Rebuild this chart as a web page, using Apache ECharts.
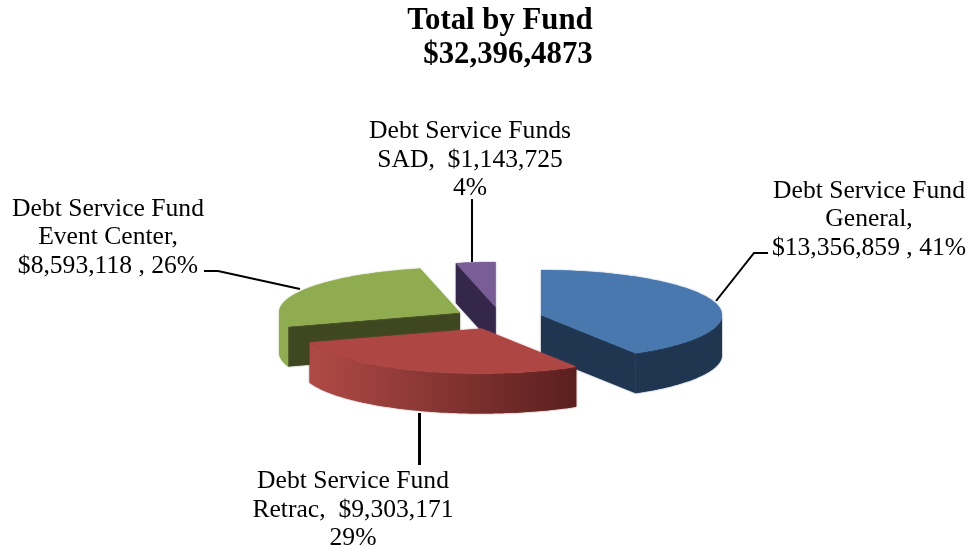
<!DOCTYPE html>
<html>
<head>
<meta charset="utf-8">
<style>html,body{margin:0;padding:0;background:#fff}#c{width:970px;height:549px}</style>
<script src="https://cdn.jsdelivr.net/npm/echarts@6/dist/echarts.min.js"></script>
</head>
<body>
<div id="c"></div>
<script>
var titleLines = ['Total by Fund', '$32,396,4873'];
var categories = ['Debt Service Fund General', 'Debt Service Fund Retrac', 'Debt Service Fund Event Center', 'Debt Service Funds SAD'];
var values = [13356859, 9303171, 8593118, 1143725];
var labelTexts = [
  'Debt Service Fund\nGeneral,\n$13,356,859 , 41%',
  'Debt Service Fund\nRetrac,  $9,303,171\n29%',
  'Debt Service Fund\nEvent Center,\n$8,593,118 , 26%',
  'Debt Service Funds\nSAD,  $1,143,725\n4%'
];
// Styling and layout of the drawn pie
var topColors = ['#4878ae', '#ae4744', '#8fac50', '#785d96'];
var faceColors = ['#1f3550', '#ae4744', '#3f4720', '#35274a'];
var wallColors = [['#1f3550', '#1f3550'], ['#b04a46', '#5a1f1e'], ['#8fac50', '#8fac50'], ['#35274a', '#35274a']];
var centers = [[541, 315], [481.5, 328.5], [460, 312.5], [495.7, 307]];
var labelPos = [[869, 219.5], [353, 510], [108, 237.5], [470, 160]];
var leaders = [
  [[716, 301], [754, 253], [768, 253]],
  [[419.5, 413], [419.5, 465]],
  [[300, 289], [218, 271], [204, 271]],
  [[472, 262], [472, 199]]
];
var leaderWidths = [2, 3, 2, 2];
var RX = 181, RY = 45, DEPTH = 40, DRAW_ORDER = [3, 2, 0, 1];

var total = values.reduce(function (a, b) { return a + b; }, 0);
var starts = [], acc = 0;
values.forEach(function (v) { starts.push(acc / total * Math.PI * 2); acc += v; });

function pt(c, a, dy) {
  return [c[0] + RX * Math.sin(a), c[1] - RY * Math.cos(a) + (dy || 0)];
}
function arc(c, a0, a1, dy) {
  var n = Math.max(2, Math.ceil((a1 - a0) / 0.02)), out = [];
  for (var i = 0; i <= n; i++) out.push(pt(c, a0 + (a1 - a0) * i / n, dy));
  return out;
}
function renderItem(params, api) {
  var i = api.value(0), value = api.value(1);
  var a0 = starts[i], a1 = a0 + value / total * Math.PI * 2;
  var c = centers[i], ch = [];
  function poly(points, fill, shadow) {
    ch.push({ type: 'polygon', shape: { points: points },
      style: { fill: fill, stroke: null, shadowBlur: 1.5, shadowColor: shadow || (typeof fill === 'string' ? fill : '#888') } });
  }
  // cut faces (visible where a radius looks towards the viewer)
  var faceEdges = [];
  [a0, a1].forEach(function (a) {
    var p = pt(c, a);
    faceEdges.push({ a: a, q: [[c[0], c[1]], p, [p[0], p[1] + DEPTH], [c[0], c[1] + DEPTH]] });
  });
  if (i === 0) poly(faceEdges[1].q, faceColors[0]);
  if (i === 2) poly(faceEdges[0].q, faceColors[2]);
  if (i === 3) poly(faceEdges[0].q, faceColors[3]);
  // outer wall: only the front half of the ellipse is visible
  var w0 = Math.max(a0, Math.PI / 2), w1 = Math.min(a1, Math.PI * 1.5);
  if (w1 > w0) {
    var up = arc(c, w0, w1, 0), down = arc(c, w0, w1, DEPTH).reverse();
    var fill = new echarts.graphic.LinearGradient(0, 0, 1, 0, [
      { offset: 0, color: wallColors[i][0] }, { offset: 1, color: wallColors[i][1] }
    ]);
    poly(up.concat(down), fill, wallColors[i][1]);
  }
  // top surface
  poly([[c[0], c[1]]].concat(arc(c, a0, a1, 0)), topColors[i]);
  return { type: 'group', children: ch };
}

var chart = echarts.init(document.getElementById('c'), null, { renderer: 'canvas' });
var font = '"Liberation Serif","Times New Roman",serif';
var graphics = [];
leaders.forEach(function (l, i) {
  graphics.push({ type: 'polyline', z: 10, shape: { points: l }, style: { stroke: '#000', lineWidth: leaderWidths[i], fill: null } });
});
labelTexts.forEach(function (t, i) {
  graphics.push({ type: 'text', z: 11, x: labelPos[i][0], y: labelPos[i][1],
    style: { text: t, font: '25.6px ' + font, lineHeight: 28.5, fill: '#000', align: 'center', verticalAlign: 'middle' } });
});
chart.setOption({
  animation: false,
  backgroundColor: '#fff',
  title: [
    { text: titleLines[0], left: 495, top: 1, textAlign: 'center', textStyle: { fontFamily: font, fontSize: 30.8, fontWeight: 'bold', color: '#000' } },
    { text: titleLines[1], left: 503, top: 35, textAlign: 'center', textStyle: { fontFamily: font, fontSize: 30.8, fontWeight: 'bold', color: '#000' } }
  ],
  graphic: graphics,
  series: [{
    type: 'custom',
    coordinateSystem: 'none',
    renderItem: renderItem,
    data: DRAW_ORDER.map(function (i) { return { name: categories[i], value: [i, values[i]] }; })
  }]
});
</script>
</body>
</html>
